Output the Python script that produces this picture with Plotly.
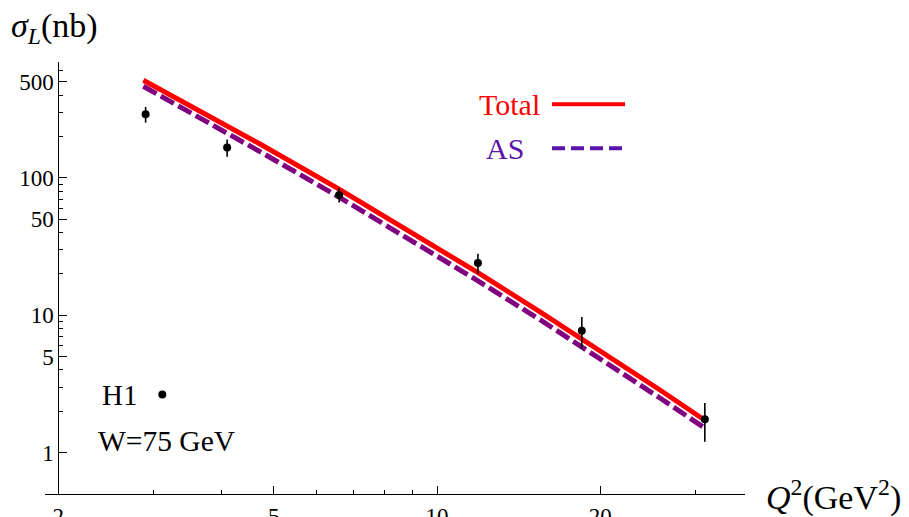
import plotly.graph_objects as go

# ---------------- data ----------------
q2_h1 = [2.90, 4.10, 6.60, 11.9, 18.5, 31.2]
sigma_h1 = [290, 166, 75, 24, 7.7, 1.75]
sigma_h1_err = [38, 24, 9, 4, 2, 0.55]

q2_model = [2.872, 3.654, 4.714, 6.596, 9.304, 11.90, 15.49, 20.0, 25.79, 31.35]
sigma_total = [512, 307, 176, 82.7, 37.0, 20.4, 10.6, 5.56, 2.86, 1.70]
sigma_as = [463, 273, 155, 72.4, 32.3, 17.8, 9.28, 4.86, 2.50, 1.49]

x_major_ticks = [2, 5, 10, 20]
x_minor_ticks = [3, 4, 6, 7, 8, 9, 30]
y_major_ticks = [1, 5, 10, 50, 100, 500]
y_minor_ticks = [2, 3, 4, 6, 7, 8, 9, 20, 30, 40, 60, 70, 80, 90,
                 200, 300, 400, 600]

# ---------------- layout helpers ----------------
# the page body adds an 8px offset, so the figure is drawn 8px smaller
OFF = 8
W, H = 909 - OFF, 517 - OFF
L, R, T, B = 45 - OFF, 164, 62 - OFF, 23
PW, PH = W - L - R, H - T - B


def px(x):  # screen pixel x -> paper fraction
    return (x - OFF - L) / PW


def py(y):  # screen pixel y -> paper fraction
    return (H - B - (y - OFF)) / PH


SERIF = "Liberation Serif, Times New Roman, Times, serif"
RED = "#ff0000"
PURPLE = "#800080"
LEG_PURPLE = "#5a14aa"

fig = go.Figure()

fig.add_trace(go.Scatter(
    x=q2_model, y=sigma_as, mode="lines",
    line=dict(color=PURPLE, width=5, dash="15px,5px"),
    showlegend=False, hoverinfo="skip"))

fig.add_trace(go.Scatter(
    x=q2_model, y=sigma_total, mode="lines",
    line=dict(color=RED, width=5),
    showlegend=False, hoverinfo="skip"))

fig.add_trace(go.Scatter(
    x=q2_h1, y=sigma_h1, mode="markers",
    marker=dict(color="black", size=8),
    error_y=dict(type="data", array=sigma_h1_err, color="black",
                 thickness=1.6, width=0),
    showlegend=False))

tickfont = dict(family=SERIF, size=23, color="black")

fig.update_xaxes(
    type="log", range=[0.27675, 1.56827], automargin=False,
    showline=True, linecolor="black", linewidth=1,
    ticks="inside", ticklen=8, tickwidth=1, tickcolor="black",
    tickvals=x_major_ticks, ticktext=[str(v) for v in x_major_ticks],
    tickfont=tickfont, ticklabelstandoff=1,
    showgrid=False, zeroline=False,
    minor=dict(tickvals=x_minor_ticks, ticks="inside", ticklen=4,
               tickwidth=1, tickcolor="black", showgrid=False),
)

fig.update_yaxes(
    type="log", range=[-0.30045, 2.8423], automargin=False,
    anchor="free", position=px(58.3),
    showline=True, linecolor="black", linewidth=1,
    ticks="inside", ticklen=8, tickwidth=1, tickcolor="black",
    tickvals=y_major_ticks, ticktext=[str(v) for v in y_major_ticks],
    tickfont=tickfont, showgrid=False, zeroline=False,
    minor=dict(tickvals=y_minor_ticks, ticks="inside", ticklen=4,
               tickwidth=1, tickcolor="black", showgrid=False),
)

annotations = [
    dict(text="<i>σ</i><sub><i>L</i></sub>(nb)", x=px(9), y=py(28),
         font=dict(family=SERIF, size=34, color="black")),
    dict(text="<i>Q</i><sup>2</sup>(GeV<sup>2</sup>)", x=px(764), y=py(496),
         font=dict(family=SERIF, size=34, color="black")),
    dict(text="Total", x=px(477), y=py(104),
         font=dict(family=SERIF, size=30, color=RED)),
    dict(text="AS", x=px(484), y=py(148),
         font=dict(family=SERIF, size=30, color=LEG_PURPLE)),
    dict(text="H1", x=px(100), y=py(395),
         font=dict(family=SERIF, size=29, color="black")),
    dict(text="W=75 GeV", x=px(96), y=py(441),
         font=dict(family=SERIF, size=29.5, color="black")),
]
for a in annotations:
    a.update(xref="paper", yref="paper", showarrow=False,
             xanchor="left", yanchor="middle")

shapes = [
    dict(type="line", xref="paper", yref="paper",
         x0=px(552), x1=px(625), y0=py(104.3), y1=py(104.3),
         line=dict(color=RED, width=4)),
    dict(type="line", xref="paper", yref="paper",
         x0=px(552), x1=px(625), y0=py(148.3), y1=py(148.3),
         line=dict(color=LEG_PURPLE, width=4, dash="13px,6px")),
    dict(type="circle", xref="paper", yref="paper",
         xsizemode="pixel", ysizemode="pixel",
         xanchor=px(162.3), yanchor=py(394.5),
         x0=-4, x1=4, y0=-4, y1=4,
         fillcolor="black", line=dict(color="black", width=0)),
]

fig.update_layout(
    width=W, height=H,
    margin=dict(l=L, r=R, t=T, b=B, pad=0, autoexpand=False),
    plot_bgcolor="white", paper_bgcolor="white",
    showlegend=False,
    annotations=annotations,
    shapes=shapes,
    font=dict(family=SERIF, color="black"),
)

fig.write_html("out.html")
